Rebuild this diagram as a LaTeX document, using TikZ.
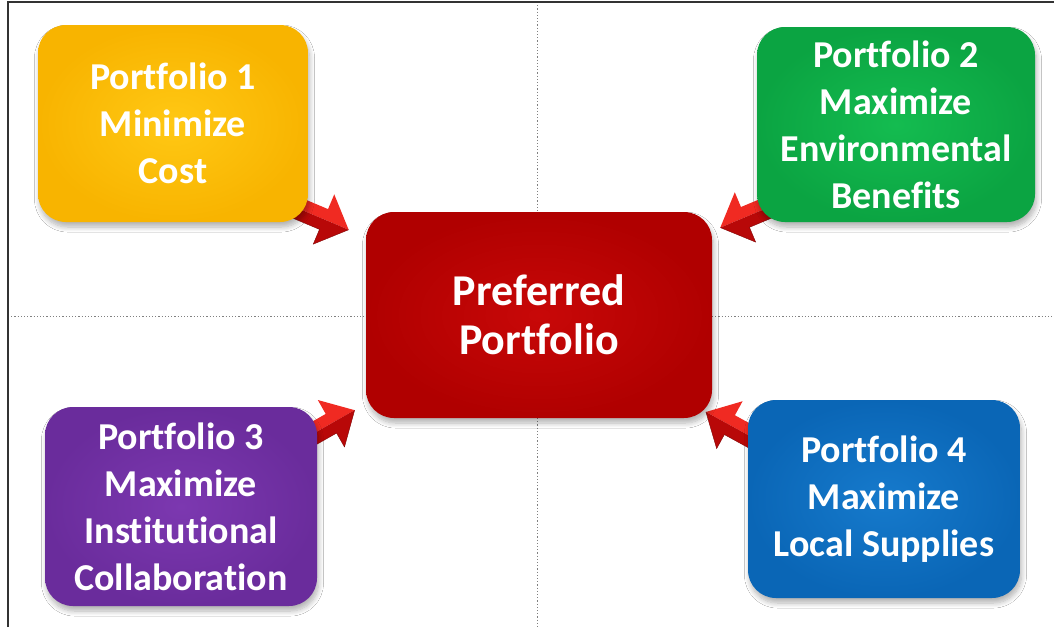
\documentclass[tikz,border=0pt]{standalone}
\usepackage{fontspec}
\setmainfont{Carlito}[Ligatures=NoCommon]
\usetikzlibrary{calc,shadows.blur}
\pgfdeclarelayer{bg}
\pgfsetlayers{bg,main}
\definecolor{ylin}{HTML}{FFC814}
\definecolor{ylout}{HTML}{F8B400}
\definecolor{grin}{HTML}{14BC50}
\definecolor{grout}{HTML}{0BA442}
\definecolor{rdin}{HTML}{C80808}
\definecolor{rdout}{HTML}{B00000}
\definecolor{puin}{HTML}{7C38B0}
\definecolor{puout}{HTML}{6A2C9C}
\definecolor{blin}{HTML}{167ACC}
\definecolor{blout}{HTML}{0A66B6}
\definecolor{arrlight}{HTML}{F02A22}
\definecolor{arrdark}{HTML}{B80808}
\tikzset{
  box/.style={rounded corners=28pt, align=center, text=white, inner sep=0pt,
    font=\bfseries\fontsize{38}{47}\selectfont,
    blur shadow={shadow xshift=1.5pt, shadow yshift=-5pt, shadow blur steps=8,
      shadow opacity=30, shadow blur radius=5pt}},
  bigbox/.style={box, font=\bfseries\fontsize{44}{49}\selectfont},
  shadebox/.style 2 args={shading=radial, inner color=#1, outer color=#2},
  guide/.style={gray, line width=0.8pt, dash pattern=on 1.2pt off 2pt},
  frameline/.style={black!80, line width=1.4pt},
  barrow/.pic={
    \begin{scope}[yscale=#1]
      \fill[arrlight] (0,0) -- (0,11) -- (31,11) -- (31,27) -- (58,0) -- cycle;
      \fill[arrdark] (0,0) -- (58,0) -- (31,-27) -- (31,-11) -- (0,-11) -- cycle;
      \draw[arrdark!70!black, line width=0.4pt] (0,-11) -- (31,-11) -- (31,-27) -- (58,0);
    \end{scope}
  }
}
\begin{document}
\begin{tikzpicture}[x=1pt,y=1pt]
\useasboundingbox (0,0) rectangle (1054,-627);

\node[box, shadebox={ylin}{ylout}, minimum width=270pt, minimum height=197pt]
  (p1) at (173,-123.5) {Portfolio 1\\Minimize\\Cost};
\node[box, shadebox={grin}{grout}, minimum width=278pt, minimum height=195pt]
  (p2) at (896,-124.5) {Portfolio 2\\Maximize\\Environmental\\Benefits};
\node[bigbox, shadebox={rdin}{rdout}, minimum width=346pt, minimum height=206pt]
  (pref) at (539,-315) {Preferred\\Portfolio};
\node[box, shadebox={puin}{puout}, minimum width=272pt, minimum height=199pt]
  (p3) at (181,-506.5) {Portfolio 3\\Maximize\\Institutional\\Collaboration};
\node[box, shadebox={blin}{blout}, minimum width=272pt, minimum height=198pt]
  (p4) at (884,-499) {Portfolio 4\\Maximize\\Local Supplies};

\coordinate (a1s) at ($(p1.south east)+(-13,15)$);
\coordinate (a1e) at ($(pref.north west)+(-17,-18)$);
\coordinate (a2s) at ($(p2.south west)+(17,17)$);
\coordinate (a2e) at ($(pref.north east)+(10,-15)$);
\coordinate (a3s) at ($(p3.north east)+(-13,-32)$);
\coordinate (a3e) at ($(pref.south west)+(-13,7)$);
\coordinate (a4s) at ($(p4.north west)+(9,-40)$);
\coordinate (a4e) at ($(pref.south east)+(-4,5)$);

\coordinate (vt) at (537,-2);
\coordinate (vb) at (537,-627);
\coordinate (hl) at (8,-316);
\coordinate (hr) at (1054,-316);
\coordinate (fbl) at (8,-627);
\coordinate (ftl) at (8,-2);
\coordinate (ftr) at (1054,-2);

\begin{pgfonlayer}{bg}
  \fill[white] (0,0) rectangle (1054,-627);
  \draw[guide] (vt) -- (vb);
  \draw[guide] (hl) -- (hr);
  \draw[frameline] (fbl) -- (ftl) -- (ftr);
  \path (a1s) -- (a1e) pic[pos=0, sloped, allow upside down] {barrow=1};
  \path (a2s) -- (a2e) pic[pos=0, sloped, allow upside down] {barrow=-1};
  \path (a3s) -- (a3e) pic[pos=0, sloped, allow upside down] {barrow=1};
  \path (a4s) -- (a4e) pic[pos=0, sloped, allow upside down] {barrow=-1};
\end{pgfonlayer}
\end{tikzpicture}
\end{document}
